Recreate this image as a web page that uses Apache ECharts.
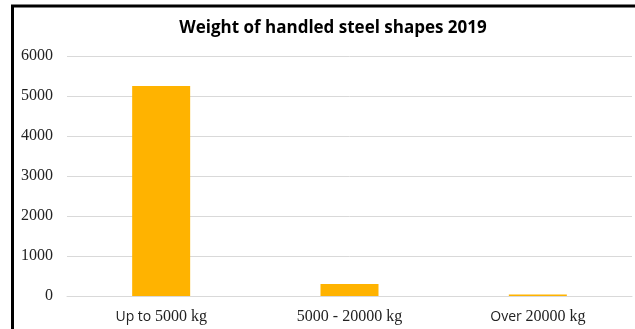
<!DOCTYPE html>
<html>
<head>
<meta charset="utf-8">
<script src="https://cdn.jsdelivr.net/npm/echarts@6/dist/echarts.min.js"></script>
<style>
html,body{margin:0;padding:0;background:#fff;}
#c{width:635px;height:329px;}
</style>
</head>
<body>
<div id="c"></div>
<script>
const titleText = 'Weight of handled steel shapes 2019';
const categories = ['Up to 5000 kg', '5000 - 20000 kg', 'Over 20000 kg'];
const labelParts = [['Up to ', '5000 kg'], ['', '5000 - 20000 kg'], ['Over ', '20000 kg']];
const weights = [5250, 300, 40];
const yTicks = [0, 1000, 2000, 3000, 4000, 5000, 6000];

const chart = echarts.init(document.getElementById('c'));
chart.setOption({
  animation: false,
  backgroundColor: '#fff',
  title: {
    text: titleText,
    left: 328, top: 15, textAlign: 'center',
    textStyle: {fontFamily: 'Open Sans', fontWeight: 'bold', fontSize: 17, color: '#000'}
  },
  graphic: [{
    type: 'rect', silent: true, z: 100,
    shape: {x: 12.5, y: 6, width: 700, height: 400},
    style: {fill: 'none', stroke: '#000', lineWidth: 3}
  }],
  grid: {left: 67, right: 3, top: 56, bottom: 33, containLabel: false},
  xAxis: {
    type: 'category',
    data: categories,
    axisLine: {show: true, lineStyle: {color: '#d9d9d9', width: 1}},
    axisTick: {show: false},
    axisLabel: {
      margin: 13,
      formatter: function (v, i) {
        const p = labelParts[i];
        return (p[0] ? '{s|' + p[0] + '}' : '') + '{r|' + p[1] + '}';
      },
      rich: {
        s: {fontFamily: 'Open Sans', fontSize: 14, color: '#222'},
        r: {fontFamily: 'Liberation Serif', fontSize: 16, color: '#222'}
      }
    }
  },
  yAxis: {
    type: 'value',
    min: yTicks[0], max: yTicks[yTicks.length - 1], interval: 1000,
    axisLine: {show: false},
    axisTick: {show: false},
    splitLine: {lineStyle: {color: '#d9d9d9', width: 1}},
    axisLabel: {
      margin: 14, fontFamily: 'Liberation Serif', fontSize: 16, color: '#222',
      formatter: function (v) { return String(v); }
    }
  },
  series: [{
    type: 'bar',
    data: weights,
    barWidth: 58,
    itemStyle: {color: '#FFB300'}
  }]
});
</script>
</body>
</html>
